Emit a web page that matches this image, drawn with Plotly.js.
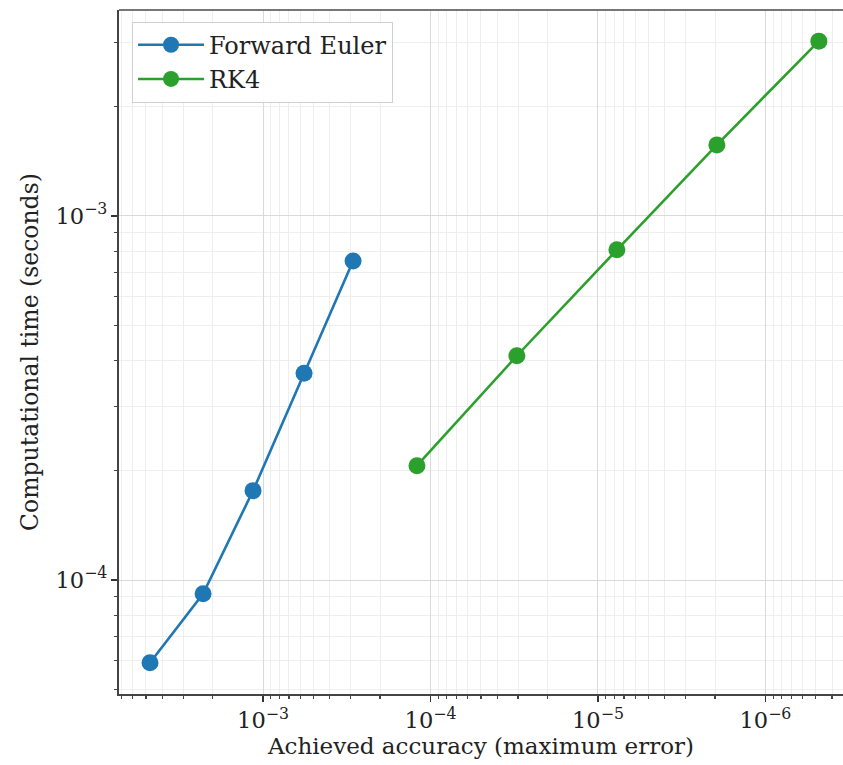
<!DOCTYPE html>
<html>
<head>
<meta charset="utf-8">
<script src="https://cdn.plot.ly/plotly-3.0.1.min.js"></script>
<style>html,body{margin:0;padding:0;background:#fff;}#chart{width:843px;height:765px;}</style>
</head>
<body>
<div id="chart"></div>
<script>
// Data
const eulerError = [4.73e-3, 2.28e-3, 1.147e-3, 5.69e-4, 2.90e-4];
const eulerTime  = [5.93e-5, 9.17e-5, 1.76e-4, 3.70e-4, 7.52e-4];
const rk4Error   = [1.205e-4, 3.05e-5, 7.71e-6, 1.95e-6, 4.8e-7];
const rk4Time    = [2.06e-4, 4.13e-4, 8.07e-4, 1.567e-3, 3.02e-3];
const seriesNames = ["Forward Euler", "RK4"];

const serif = "DejaVu Serif, serif";

const traces = [
  {x: eulerError, y: eulerTime, name: seriesNames[0], mode: "lines+markers", type: "scatter",
   line: {color: "#1f77b4", width: 2.6}, marker: {color: "#1f77b4", size: 17}},
  {x: rk4Error, y: rk4Time, name: seriesNames[1], mode: "lines+markers", type: "scatter",
   line: {color: "#2ca02c", width: 2.6}, marker: {color: "#2ca02c", size: 17}}
];

const layout = {
  width: 843, height: 765,
  margin: {l: 119, r: 0, t: 10, b: 71},
  paper_bgcolor: "#fff", plot_bgcolor: "#fff",
  font: {family: serif, color: "#222", size: 17},
  showlegend: true,
  legend: {x: 0.018, y: 0.983, xanchor: "left", yanchor: "top",
           bgcolor: "rgba(255,255,255,0.9)", bordercolor: "#d0d0d0", borderwidth: 1,
           font: {family: serif, size: 24, color: "#222"}, itemwidth: 66, tracegroupgap: 6},
  xaxis: {
    type: "log", range: [-2.14, -6.463], autorange: false,
    dtick: 1, exponentformat: "power", tickfont: {family: serif, size: 18, color: "#222"},
    ticks: "outside", ticklen: 6, tickcolor: "#333", tickwidth: 1.2,
    showline: true, linecolor: "#444", linewidth: 2,
    showgrid: true, gridcolor: "#d9d9d9", gridwidth: 1,
    minor: {dtick: "D1", ticks: "outside", ticklen: 3, tickcolor: "#444", showgrid: true, gridcolor: "#eeeeee", gridwidth: 1},
    zeroline: false,
    title: {text: "Achieved accuracy (maximum error)", font: {family: serif, size: 23, color: "#222"}, standoff: 6}
  },
  yaxis: {
    type: "log", range: [-4.313, -2.4345], autorange: false,
    dtick: 1, exponentformat: "power", tickfont: {family: serif, size: 18, color: "#222"},
    ticks: "outside", ticklen: 6, tickcolor: "#333", tickwidth: 1.2,
    showline: true, linecolor: "#444", linewidth: 2,
    showgrid: true, gridcolor: "#d9d9d9", gridwidth: 1,
    minor: {dtick: "D1", ticks: "outside", ticklen: 3, tickcolor: "#444", showgrid: true, gridcolor: "#eeeeee", gridwidth: 1},
    zeroline: false,
    title: {text: "Computational time (seconds)", font: {family: serif, size: 23.5, color: "#222"}, standoff: 10}
  },
  shapes: [
    {type: "line", xref: "paper", yref: "paper", x0: 0, x1: 1, y0: 1, y1: 1, line: {color: "#777", width: 2}}
  ]
};

Plotly.newPlot("chart", traces, layout, {displayModeBar: false, staticPlot: true});
</script>
</body>
</html>
